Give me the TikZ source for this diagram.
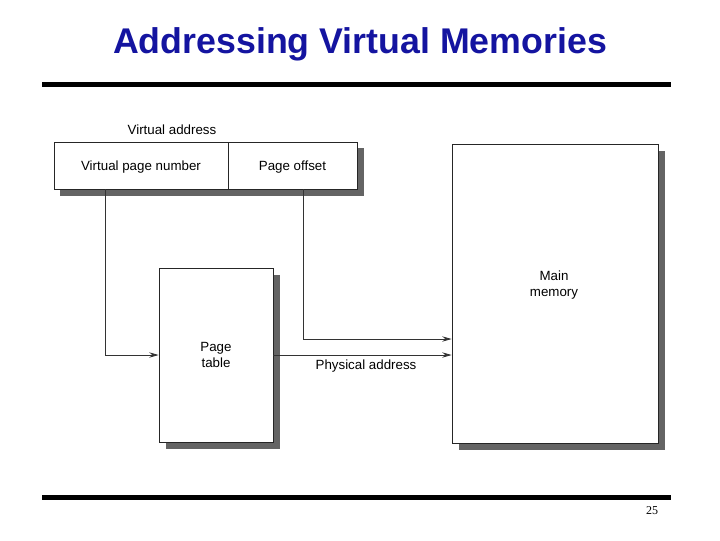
\documentclass[tikz,border=0pt]{standalone}
\usepackage{fontspec}
\setmainfont{Liberation Sans}
\newfontfamily\timesfont{Liberation Serif}
\usetikzlibrary{arrows.meta,shadows}
\definecolor{titleblue}{RGB}{20,20,160}
\definecolor{shadowgray}{RGB}{100,100,100}
\tikzset{
  box/.style={draw=black!85, line width=0.6pt, fill=white, inner sep=0pt, align=center,
    font=\fontsize{10}{12}\selectfont,
    drop shadow={shadow xshift=5pt, shadow yshift=-5pt, fill=shadowgray, opacity=1}},
  plainbox/.style={draw=black!85, line width=0.6pt, fill=white, inner sep=0pt, align=center,
    font=\fontsize{10}{12}\selectfont},
  conn/.style={draw=black!80, line width=0.6pt},
  arr/.style={conn, -{Stealth[length=7pt,width=4pt]}},
  lbl/.style={font=\fontsize{10}{12}\selectfont, inner sep=0pt},
  rule/.style={line width=3.75pt}
}
\begin{document}
\begin{tikzpicture}[x=0.75pt,y=-0.75pt]
\useasboundingbox (0,0) rectangle (720,540);
% title and rules
\node[font=\fontsize{26.8}{30}\selectfont\bfseries, text=titleblue] (title) at (360,44) {Addressing Virtual Memories};
\coordinate (r1a) at (42,84.5); \coordinate (r1b) at (671,84.5);
\coordinate (r2a) at (42,497.5); \coordinate (r2b) at (671,497.5);
\draw[rule] (r1a) -- (r1b);
\draw[rule] (r2a) -- (r2b);
\node[font=\timesfont\fontsize{9}{10}\selectfont] (pnum) at (652,511) {25};
% virtual address shadow
\fill[shadowgray] (60,148) rectangle (364,196);
\node[plainbox, minimum width=130.5pt, minimum height=35.25pt, text depth=-2.5pt] (vpn) at (141,165.5) {Virtual page number};
\node[plainbox, minimum width=96.75pt, minimum height=35.25pt, text depth=-2.5pt] (off) at (292.5,165.5) {Page offset};
\node[lbl] (va) at (172,130) {Virtual address};
% page table and main memory
\node[box, minimum width=85.5pt, minimum height=130.5pt] (pt) at (216,355) {Page\\table};
\node[box, minimum width=154.5pt, minimum height=224.25pt] (mm) at (555,293.5) {};
\node[lbl, align=center] (mmtext) at (554,285) {Main\\memory};
\node[lbl] (pa) at (366,366) {Physical address};
% connectors
\coordinate (c1) at (105,189);
\coordinate (c2) at (303,189);
\coordinate (c3) at (303,339);
\draw[arr] (c1) |- (pt.west);
\draw[arr] (c2) -- (c3) -- (c3 -| mm.west);
\draw[arr] (pt.east) -- (pt.east -| mm.west);
\end{tikzpicture}
\end{document}
